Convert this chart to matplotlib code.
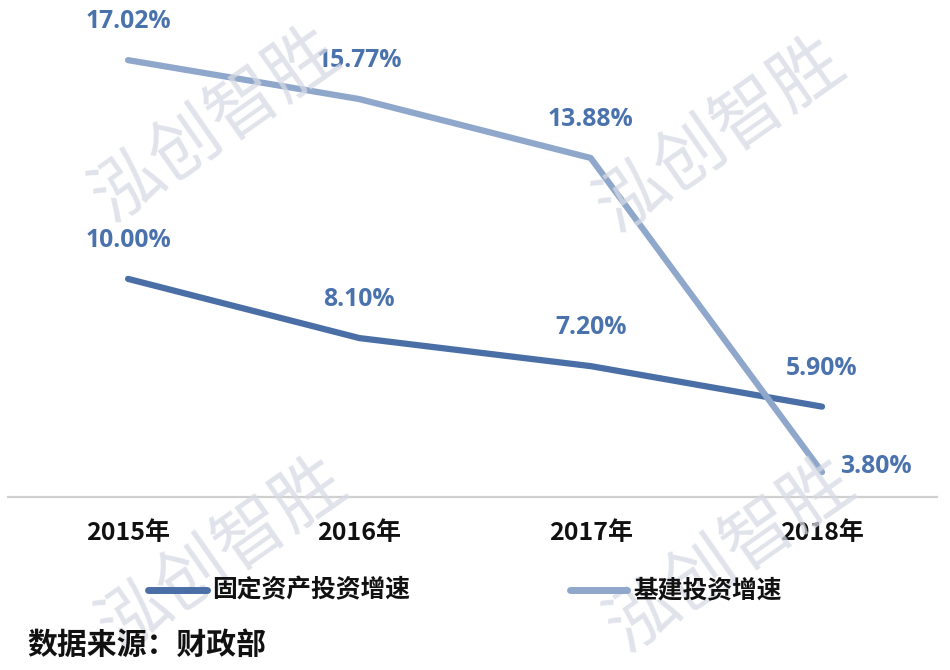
import matplotlib
matplotlib.use("Agg")
import matplotlib.pyplot as plt

plt.rcParams['font.family'] = ['Noto Sans CJK SC', 'DejaVu Sans']

years = ["2015年", "2016年", "2017年", "2018年"]
fixed_asset = [10.00, 8.10, 7.20, 5.90]
infra = [17.02, 15.77, 13.88, 3.80]
series_names = ["固定资产投资增速", "基建投资增速"]
source_text = "数据来源：财政部"
watermark = "泓创智胜"

dark = "#4a6fa6"
light = "#8fa7cb"
label_col = "#4a72ad"

fig = plt.figure(figsize=(9.5, 6.7), dpi=100)

# watermarks in figure coords
for cx, cy in [(215, 125), (720, 135), (222, 555), (730, 555)]:
    fig.text(cx / 950, 1 - cy / 670, watermark, fontsize=51, color="#d6dae4",
             rotation=35, ha="center", va="center", alpha=0.75, zorder=0)

ax = fig.add_axes([8 / 950, (670 - 497) / 670, 929 / 950, 497 / 670])
ax.patch.set_alpha(0)
x = list(range(len(years)))
ax.plot(x, fixed_asset, color=dark, lw=4.5, solid_capstyle="round", zorder=3)
ax.plot(x, infra, color=light, lw=4.5, solid_capstyle="round", zorder=4)
ax.set_xlim(-0.519, 3.497)
ax.set_ylim(3.0, 18.95)

lbl_font = dict(fontsize=17.8, fontweight="bold", color=label_col,
                family=["Open Sans", "DejaVu Sans"])
for xi, v in zip(x, fixed_asset):
    ax.annotate(f"{v:.2f}%", (xi, v), xytext=(0, 27.5), textcoords="offset points",
                ha="center", va="center", **lbl_font)
for xi, v in zip(x, infra):
    if xi == 3:
        ax.annotate(f"{v:.2f}%", (xi, v), xytext=(13, 4), textcoords="offset points",
                    ha="left", va="center", **lbl_font)
    else:
        ax.annotate(f"{v:.2f}%", (xi, v), xytext=(0, 27.5), textcoords="offset points",
                    ha="center", va="center", **lbl_font)

for s in ["top", "right", "left"]:
    ax.spines[s].set_visible(False)
ax.spines["bottom"].set_color("#d0d0d0")
ax.spines["bottom"].set_linewidth(1.6)
ax.set_yticks([])
ax.set_xticks(x)
ax.set_xticklabels(years, fontsize=18, fontweight="bold", color="#111111")
ax.tick_params(axis="x", length=0, pad=17)

# legend drawn by hand in figure coords
fig.lines.append(plt.Line2D([148 / 950, 207 / 950], [1 - 590 / 670] * 2, color=dark, lw=5,
                            solid_capstyle="round", transform=fig.transFigure))
fig.text(212 / 950, 1 - 590 / 670, series_names[0], fontsize=17.8, fontweight="bold",
         ha="left", va="center", color="#111111")
fig.lines.append(plt.Line2D([570 / 950, 627 / 950], [1 - 590 / 670] * 2, color=light, lw=5,
                            solid_capstyle="round", transform=fig.transFigure))
fig.text(633 / 950, 1 - 590 / 670, series_names[1], fontsize=17.8, fontweight="bold",
         ha="left", va="center", color="#111111")

fig.text(27 / 950, 1 - 645 / 670, source_text, fontsize=21.5, fontweight="bold",
         ha="left", va="center", color="#111111")

fig.savefig("out.png", dpi=100)
